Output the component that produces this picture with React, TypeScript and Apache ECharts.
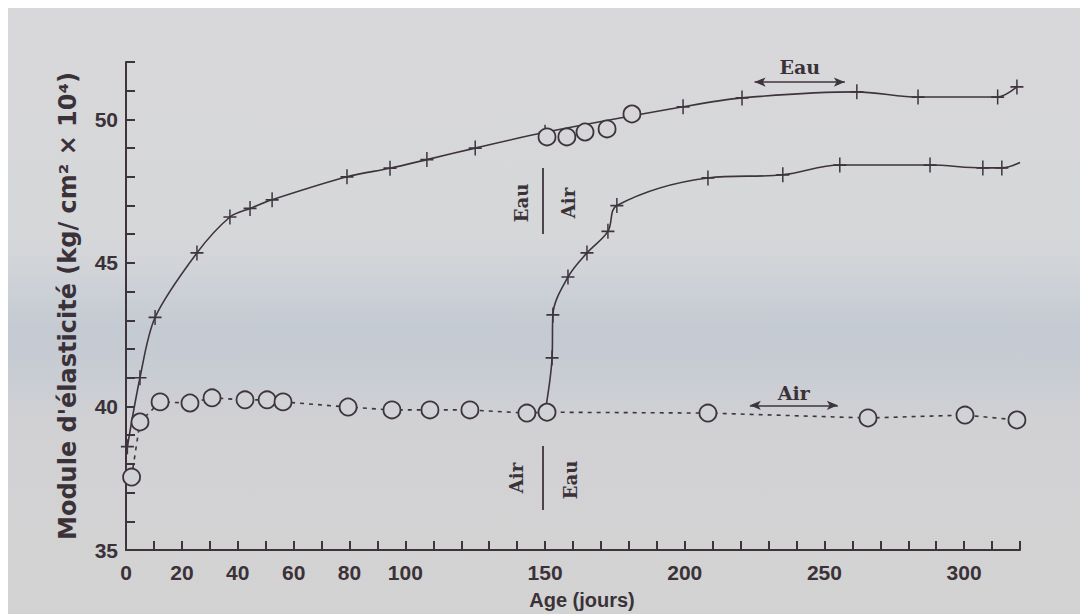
import React, { useEffect, useRef } from "react";
import * as echarts from "echarts";

// ---- data ----
const xLabelValues = [0, 20, 40, 60, 80, 100, 150, 200, 250, 300];
const yLabelValues = [35, 40, 45, 50];

// cured in water throughout (+)
const eauDays = [0.5, 5, 10.4, 25.4, 37.2, 44.4, 52.3, 79.1, 94.5, 107.7, 125, 150, 199.4, 220.5, 261.6, 283.5, 312, 318.9];
const eauModulus = [38.6, 41.0, 43.1, 45.35, 46.6, 46.9, 47.2, 48.0, 48.3, 48.6, 49.0, 49.55, 50.44, 50.75, 50.96, 50.78, 50.78, 51.13];

// cured in air throughout (o)
const airDays = [2, 5, 12.2, 22.9, 30.8, 42.6, 50.5, 56.2, 79.5, 95.2, 108.8, 123.1, 143.5, 150.7, 208.3, 265.6, 300.3, 318.9];
const airModulus = [37.54, 39.46, 40.16, 40.12, 40.3, 40.23, 40.23, 40.16, 39.98, 39.88, 39.88, 39.88, 39.77, 39.8, 39.77, 39.6, 39.7, 39.53];

// water then air after 150 days (o)
const eauAirDays = [150.7, 157.8, 164.3, 172.2, 181.1];
const eauAirModulus = [49.39, 49.39, 49.56, 49.67, 50.19];

// air then water after 150 days (+); first and last entries are curve ends
const airEauDays = [150, 152.5, 152.8, 158.2, 165, 172.5, 175.7, 208.3, 235.1, 255.5, 287.8, 306.7, 313.5, 320];
const airEauModulus = [39.8, 41.69, 43.19, 44.51, 45.35, 46.1, 47.0, 47.96, 48.07, 48.41, 48.41, 48.31, 48.31, 48.5];

const INK = "#3e343d";
const LABEL = "#3a3238";
const PLUS = "path://M6,0L6,12M0,6L12,6";

const plusStyle = { color: INK, borderColor: INK, borderWidth: 1.6 };

export default function App() {
  const ref = useRef<HTMLDivElement>(null);

  useEffect(() => {
    const chart = echarts.init(ref.current!, null, { renderer: "svg" });

    const pair = (xs: number[], ys: number[]) => xs.map((x, i) => [x, ys[i]]);
    const withEnds = (xs: number[], ys: number[], first: boolean, last: boolean) =>
      xs.map((x, i) => {
        const none = (first && i === 0) || (last && i === xs.length - 1);
        return none ? { value: [x, ys[i]], symbol: "none" } : [x, ys[i]];
      });

    const tickFont = {
      color: LABEL,
      fontSize: 21,
      fontWeight: "bold" as const,
      fontFamily: "Liberation Sans",
    };

    const axisTick = {
      show: true,
      inside: true,
      length: 9,
      interval: 0,
      lineStyle: { color: INK, width: 2, opacity: 1 },
    };

    chart.setOption({
      animation: false,
      grid: { left: 118, right: 68, top: 54, bottom: 64, containLabel: false },
      xAxis: {
        type: "value",
        min: 0,
        max: 320,
        interval: 10,
        axisLine: { show: true, onZero: false, lineStyle: { color: INK, width: 2 } },
        axisTick,
        axisLabel: {
          ...tickFont,
          margin: 12,
          formatter: (v: number) => (xLabelValues.includes(v) ? String(v) : ""),
        },
        splitLine: { show: false },
      },
      yAxis: {
        type: "value",
        min: 35,
        max: 52,
        interval: 1,
        axisLine: { show: true, onZero: false, lineStyle: { color: INK, width: 2 } },
        axisTick,
        axisLabel: {
          ...tickFont,
          margin: 8,
          formatter: (v: number) => (yLabelValues.includes(v) ? String(v) : ""),
        },
        splitLine: { show: false },
      },
      series: [
        {
          name: "Eau",
          type: "line",
          smooth: 0.3,
          data: pair(eauDays, eauModulus),
          symbol: PLUS,
          symbolSize: [13, 15],
          showAllSymbol: true,
          itemStyle: plusStyle,
          lineStyle: { color: INK, width: 1.6 },
          z: 3,
          markLine: {
            silent: true,
            symbol: ["arrow", "arrow"],
            symbolSize: [7, 11],
            lineStyle: { color: INK, width: 1.6, type: "solid" },
            label: {
              show: true,
              position: "middle",
              formatter: "Eau",
              color: LABEL,
              fontSize: 19,
              fontWeight: "bold",
              fontFamily: "DejaVu Serif",
              distance: 6,
            },
            data: [[{ coord: [225, 51.3] }, { coord: [257.3, 51.3] }]],
          },
        },
        {
          name: "Air",
          type: "line",
          data: pair(airDays, airModulus),
          symbol: "circle",
          symbolSize: 17,
          showAllSymbol: true,
          itemStyle: { color: "#d1d2d5", borderColor: INK, borderWidth: 1.8 },
          lineStyle: { color: INK, width: 1.6, type: [4, 5] },
          z: 4,
          markLine: {
            silent: true,
            symbol: ["arrow", "arrow"],
            symbolSize: [7, 11],
            lineStyle: { color: INK, width: 1.6, type: "solid" },
            label: {
              show: true,
              position: "middle",
              formatter: "Air",
              color: LABEL,
              fontSize: 19,
              fontWeight: "bold",
              fontFamily: "DejaVu Serif",
              distance: 3,
            },
            data: [[{ coord: [223.3, 40.04] }, { coord: [254.8, 40.04] }]],
          },
        },
        {
          name: "Air / Eau",
          type: "line",
          smooth: 0.35,
          data: withEnds(airEauDays, airEauModulus, true, true),
          symbol: PLUS,
          symbolSize: [13, 15],
          showAllSymbol: true,
          itemStyle: plusStyle,
          lineStyle: { color: INK, width: 1.6 },
          z: 3,
        },
        {
          name: "Eau / Air",
          type: "scatter",
          data: pair(eauAirDays, eauAirModulus),
          symbol: "circle",
          symbolSize: 17,
          itemStyle: { color: "#d6d6d8", borderColor: INK, borderWidth: 1.8, opacity: 1 },
          z: 5,
        },
      ],
      graphic: [
        {
          type: "text",
          x: 60,
          y: 298,
          rotation: Math.PI / 2,
          style: {
            text: "Module d'élasticité (kg/ cm² × 10⁴)",
            fill: LABEL,
            font: "bold 24px 'DejaVu Sans'",
            textAlign: "center",
            textVerticalAlign: "middle",
          },
        },
        {
          type: "text",
          x: 574,
          y: 592,
          style: {
            text: "Age (jours)",
            fill: LABEL,
            font: "bold 20px 'Liberation Sans'",
            textAlign: "center",
            textVerticalAlign: "middle",
          },
        },
        // Eau / Air fraction (rotated)
        {
          type: "text",
          x: 513,
          y: 195,
          rotation: Math.PI / 2,
          style: { text: "Eau", fill: LABEL, font: "bold 18px 'DejaVu Serif'", textAlign: "center", textVerticalAlign: "middle" },
        },
        { type: "line", shape: { x1: 535, y1: 160, x2: 535, y2: 226 }, style: { stroke: INK, lineWidth: 1.8 } },
        {
          type: "text",
          x: 560,
          y: 195,
          rotation: Math.PI / 2,
          style: { text: "Air", fill: LABEL, font: "bold 18px 'DejaVu Serif'", textAlign: "center", textVerticalAlign: "middle" },
        },
        // Air / Eau fraction (rotated)
        {
          type: "text",
          x: 508,
          y: 470,
          rotation: Math.PI / 2,
          style: { text: "Air", fill: LABEL, font: "bold 18px 'DejaVu Serif'", textAlign: "center", textVerticalAlign: "middle" },
        },
        { type: "line", shape: { x1: 535, y1: 438, x2: 535, y2: 502 }, style: { stroke: INK, lineWidth: 1.8 } },
        {
          type: "text",
          x: 562,
          y: 472,
          rotation: Math.PI / 2,
          style: { text: "Eau", fill: LABEL, font: "bold 18px 'DejaVu Serif'", textAlign: "center", textVerticalAlign: "middle" },
        },
      ],
    });

    return () => chart.dispose();
  }, []);

  return (
    <div
      ref={ref}
      style={{
        width: 1080,
        height: 606,
        background:
          "linear-gradient(to bottom, #d8d8da 0%, #d6d7d9 38%, #cdd1d7 46%, #c4cad3 53%, #c8ccd3 60%, #d1d1d4 68%, #d4d3d3 100%)",
      }}
    />
  );
}
